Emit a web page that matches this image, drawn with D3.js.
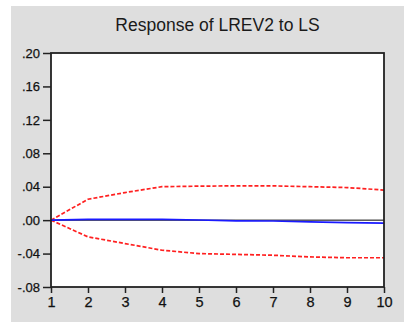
<!DOCTYPE html>
<html><head><meta charset="utf-8">
<script src="https://cdn.jsdelivr.net/npm/d3@7"></script>
<style>body{margin:0;background:#fff}svg{display:block}text{font-family:Arial,"Liberation Sans",sans-serif}</style>
</head><body>
<svg id="c" width="404" height="322"></svg>
<script>
const periods = [1,2,3,4,5,6,7,8,9,10];
const response = [0, 0.0008, 0.0008, 0.0008, 0.0002, -0.0008, -0.001, -0.002, -0.003, -0.0035];
const upper = [0, 0.025, 0.033, 0.040, 0.0407, 0.041, 0.041, 0.040, 0.039, 0.036];
const lower = [0, -0.020, -0.028, -0.036, -0.040, -0.041, -0.042, -0.044, -0.045, -0.045];
const yTicks = [0.20, 0.16, 0.12, 0.08, 0.04, 0.00, -0.04, -0.08];
const yTickLabels = [".20", ".16", ".12", ".08", ".04", ".00", "-.04", "-.08"];
const title = "Response of LREV2 to LS";

const svg = d3.select("#c");
const L = 51, R = 384, T = 53, B = 287;
svg.append("rect").attr("x",11).attr("y",6).attr("width",393).attr("height",316).attr("fill","#dedede");
svg.append("rect").attr("x",L).attr("y",T).attr("width",R-L).attr("height",B-T).attr("fill","#fff");

const x = d3.scaleLinear().domain([1,10]).range([L,R]);
const y = d3.scaleLinear().domain([-0.08,0.20]).range([B,T]);

svg.append("text").attr("x",(L+R)/2).attr("y",31).attr("text-anchor","middle")
  .attr("font-size",17.5).attr("fill","#1a1a1a").text(title);

// zero line
svg.append("line").attr("x1",L).attr("x2",R).attr("y1",y(0)).attr("y2",y(0)).attr("stroke","#000").attr("stroke-width",1);

const line = d3.line().x((d,i)=>x(periods[i])).y(d=>y(d));
svg.append("path").datum(upper).attr("d",line).attr("fill","none").attr("stroke","#ff2020").attr("stroke-width",1.7).attr("stroke-dasharray","4,2");
svg.append("path").datum(lower).attr("d",line).attr("fill","none").attr("stroke","#ff2020").attr("stroke-width",1.7).attr("stroke-dasharray","4,2");
svg.append("path").datum(response).attr("d",line).attr("fill","none").attr("stroke","#1a1aff").attr("stroke-width",1.7);

// axes
const ya = svg.append("g").attr("transform",`translate(${L},0)`)
  .call(d3.axisLeft(y).tickValues(yTicks).tickFormat((d,i)=>yTickLabels[i]).tickSize(8).tickPadding(3));
const xa = svg.append("g").attr("transform",`translate(0,${B})`)
  .call(d3.axisBottom(x).tickValues(periods).tickFormat(d3.format("d")).tickSize(6).tickPadding(4));
[ya,xa].forEach(g=>{
  g.select(".domain").remove();
  g.selectAll(".tick line").attr("stroke","#222").attr("stroke-width",1.5);
  g.selectAll(".tick text").attr("fill","#111").attr("font-family","Arial,'Liberation Sans',sans-serif")
    .attr("stroke","#111").attr("stroke-width",0.25);
});
ya.selectAll(".tick text").attr("font-size",13);
xa.selectAll(".tick text").attr("font-size",14.5);
svg.append("rect").attr("x",L).attr("y",T).attr("width",R-L).attr("height",B-T).attr("fill","none").attr("stroke","#222").attr("stroke-width",1.8);
</script>
</body></html>
